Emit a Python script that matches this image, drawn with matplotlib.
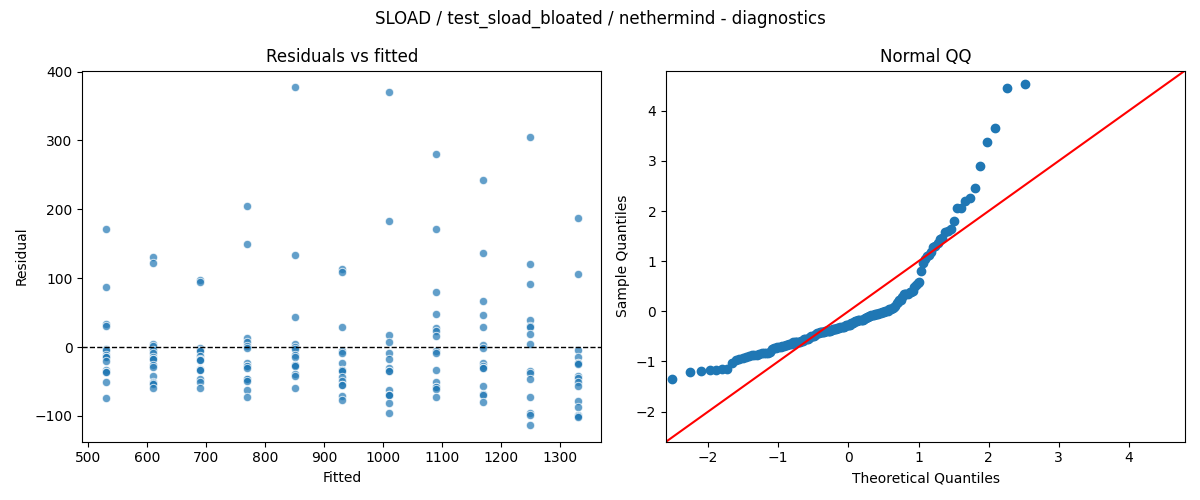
import numpy as np
import matplotlib
matplotlib.use("Agg")
import matplotlib.pyplot as plt
from statistics import NormalDist

# Fitted value groups and residuals
# (repeated values are points hidden under one another in dense clusters)
fitted_levels = [530, 610, 690, 770, 850, 930, 1010, 1090, 1170, 1250, 1330]

resid_530 = [172, 87, 34, 31, -3, -5, -11, -15, -15, -20, -33, -36, -36, -51, -74]
resid_610 = [131, 122, 4, 1, -4, -9, -15, -17, -17, -26, -29, -42, -51, -52, -54, -60]
resid_690 = [98, 94, -2, -5, -6, -13, -18, -19, -19, -32, -33, -34, -47, -51, -59]
resid_770 = [205, 149, 13, 8, 1, -2, -23, -28, -28, -31, -46, -46, -49, -63, -73]
resid_850 = [377, 133, 44, 4, 0, -3, -11, -14, -26, -26, -28, -39, -42, -59]
resid_930 = [113, 109, 29, -6, -8, -23, -33, -33, -35, -43, -50, -55, -55, -71, -77]
resid_1010 = [370, 183, 18, 7, -8, -17, -30, -35, -35, -62, -69, -70, -70, -81, -96]
resid_1090 = [281, 171, 80, 48, 28, 24, 16, -6, -9, -33, -51, -58, -58, -61, -73]
resid_1170 = [242, 137, 67, 46, 29, 3, -2, -23, -27, -30, -30, -56, -68, -69, -80]
resid_1250 = [305, 120, 91, 40, 31, 29, 19, 5, -35, -38, -47, -73, -96, -98, -113]
resid_1330 = [188, 106, -5, -15, -23, -23, -24, -42, -45, -51, -56, -78, -87, -98, -100, -101]

resid_groups = [resid_530, resid_610, resid_690, resid_770, resid_850, resid_930,
                resid_1010, resid_1090, resid_1170, resid_1250, resid_1330]

fitted = np.concatenate([[f] * len(r) for f, r in zip(fitted_levels, resid_groups)])
resid = np.concatenate([np.array(r, dtype=float) for r in resid_groups])

fig, (ax1, ax2) = plt.subplots(1, 2, figsize=(12, 5), dpi=100)

# Residuals vs fitted
ax1.scatter(fitted, resid, s=36, color="#1f77b4", alpha=0.7,
            edgecolor="white", linewidth=0.75)
ax1.axhline(0, color="black", linestyle="--", linewidth=1)
ax1.set_title("Residuals vs fitted")
ax1.set_xlabel("Fitted")
ax1.set_ylabel("Residual")
ax1.set_xticks([500, 600, 700, 800, 900, 1000, 1100, 1200, 1300])
ax1.set_yticks([-100, 0, 100, 200, 300, 400])

# Normal QQ (standardized residuals vs normal quantiles)
n = len(resid)
sample_q = np.sort((resid - resid.mean()) / resid.std())
nd = NormalDist()
theo_q = np.array([nd.inv_cdf(i / (n + 1)) for i in range(1, n + 1)])
ax2.plot(theo_q, sample_q, "o", color="#1f77b4", markersize=6)
lo, hi = -2.6, 4.8
ax2.plot([lo, hi], [lo, hi], color="red", linewidth=1.5)
ax2.set_xlim(lo, hi)
ax2.set_ylim(lo, hi)
ax2.set_title("Normal QQ")
ax2.set_xlabel("Theoretical Quantiles")
ax2.set_ylabel("Sample Quantiles")

fig.suptitle("SLOAD / test_sload_bloated / nethermind - diagnostics")
fig.tight_layout()
fig.savefig("out.png")
